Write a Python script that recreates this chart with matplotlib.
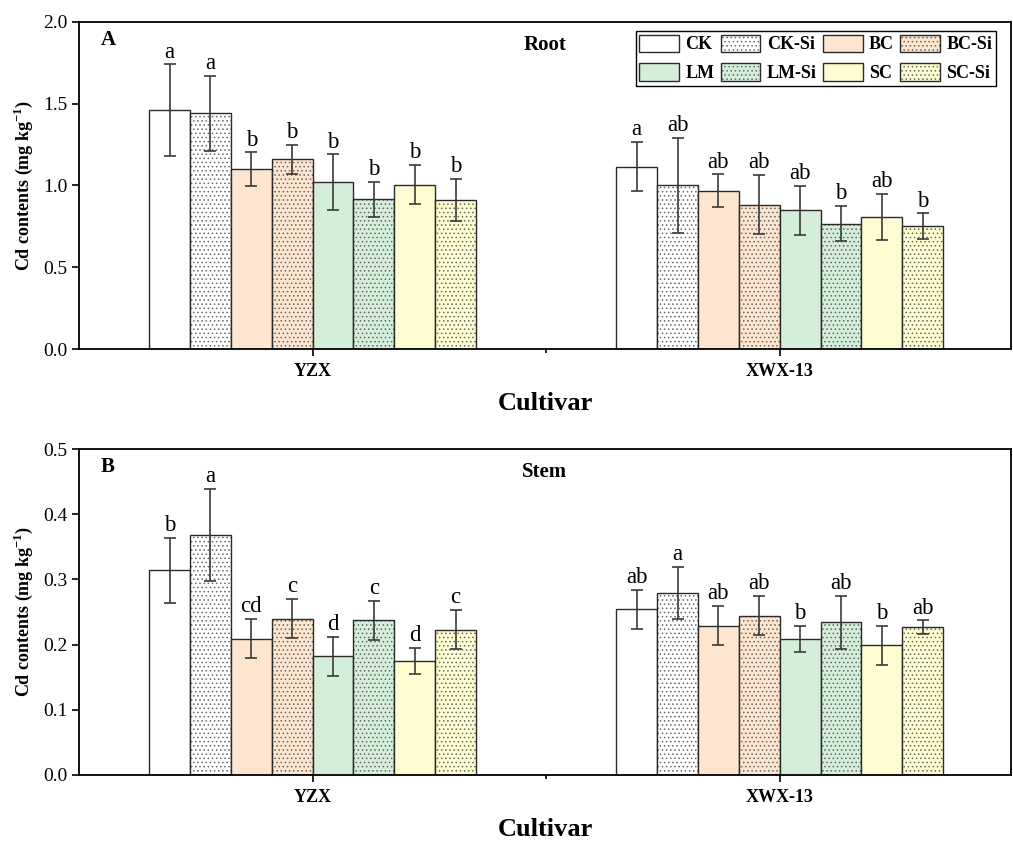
import numpy as np
import matplotlib
matplotlib.use('Agg')
import matplotlib.pyplot as plt
from matplotlib.patches import Patch
from matplotlib.legend_handler import HandlerTuple

plt.rcParams['font.family'] = ['Liberation Serif', 'DejaVu Serif']
plt.rcParams['mathtext.fontset'] = 'custom'
plt.rcParams['mathtext.rm'] = 'Liberation Serif'
plt.rcParams['mathtext.bf'] = 'Liberation Serif:bold'
plt.rcParams['hatch.linewidth'] = 0.6

# data
cultivars = ['YZX', 'XWX-13']
treatments = ['CK', 'CK-Si', 'BC', 'BC-Si', 'LM', 'LM-Si', 'SC', 'SC-Si']

root_mean = [[1.46, 1.44, 1.10, 1.16, 1.02, 0.915, 1.005, 0.91],
             [1.115, 1.00, 0.968, 0.883, 0.848, 0.767, 0.809, 0.750]]
root_err = [[0.28, 0.23, 0.103, 0.09, 0.17, 0.107, 0.12, 0.13],
            [0.15, 0.29, 0.10, 0.18, 0.15, 0.107, 0.14, 0.08]]
root_sig = [['a', 'a', 'b', 'b', 'b', 'b', 'b', 'b'],
            ['a', 'ab', 'ab', 'ab', 'ab', 'b', 'ab', 'b']]

stem_mean = [[0.314, 0.368, 0.209, 0.240, 0.182, 0.237, 0.175, 0.223],
             [0.254, 0.279, 0.229, 0.244, 0.209, 0.234, 0.199, 0.227]]
stem_err = [[0.05, 0.07, 0.03, 0.03, 0.03, 0.03, 0.02, 0.03],
            [0.03, 0.04, 0.03, 0.03, 0.02, 0.04, 0.03, 0.01]]
stem_sig = [['b', 'a', 'cd', 'c', 'd', 'c', 'd', 'c'],
            ['ab', 'a', 'ab', 'ab', 'b', 'ab', 'b', 'ab']]

colors = ['#FFFFFF', '#FFFFFF', '#FDE5CF', '#FDE5CF',
          '#D4EED9', '#D4EED9', '#FEFDD2', '#FEFDD2']
hatches = [None, '....', None, '....', None, '....', None, '....']
edge = '#2a2a2a'
dotcol = '#666666'

fig = plt.figure(figsize=(10.13, 8.41), dpi=100)
ax1 = fig.add_axes([0.078, 0.585, 0.920, 0.389])
ax2 = fig.add_axes([0.078, 0.0785, 0.920, 0.3876])

width = 0.0875
x = np.arange(len(cultivars))


def draw(ax, mean, err, sig, ymax, step, panel, title, off):
    mean = np.array(mean)
    err = np.array(err)
    for i in range(len(treatments)):
        pos = x - 3.5 * width + i * width
        if hatches[i]:
            ax.bar(pos, mean[:, i], width, color=colors[i], edgecolor=dotcol,
                   linewidth=0, hatch=hatches[i], zorder=2)
            ax.bar(pos, mean[:, i], width, fill=False, edgecolor=edge,
                   linewidth=1.0, zorder=2)
        else:
            ax.bar(pos, mean[:, i], width, color=colors[i], edgecolor=edge,
                   linewidth=1.0, zorder=2)
        ax.errorbar(pos, mean[:, i], yerr=err[:, i], fmt='none',
                    ecolor='#3a3a3a', elinewidth=1.2, capsize=4,
                    capthick=1.2, zorder=3)
        for j in range(len(cultivars)):
            ax.text(pos[j], mean[j, i] + err[j, i] + off, sig[j][i],
                    ha='center', va='bottom', fontsize=16.5)
    ax.set_xlim(-0.5, 1.495)
    ax.set_ylim(0, ymax)
    ticks = np.arange(0, ymax + step / 2, step)
    ax.set_yticks(ticks)
    ax.set_yticklabels(['%.1f' % v for v in ticks])
    ax.set_xticks(x)
    ax.set_xticklabels(cultivars, fontweight='bold', fontsize=13)
    ax.set_xticks([0.5], minor=True)
    ax.tick_params(axis='y', labelsize=14, length=5, width=1.2, direction='out')
    ax.tick_params(axis='x', which='major', length=5, width=1.2, pad=5)
    ax.tick_params(axis='x', which='minor', length=3, width=1.2)
    for s in ax.spines.values():
        s.set_linewidth(1.3)
    ax.set_ylabel(r'Cd contents (mg kg$^{\mathbf{-1}}$)', fontweight='bold',
                  fontsize=13, labelpad=6)
    ax.set_xlabel('Cultivar', fontweight='bold', fontsize=19, labelpad=9)
    ax.text(0.023, 0.975, panel, transform=ax.transAxes, ha='left', va='top',
            fontweight='bold', fontsize=15)
    ax.text(0.5, 0.93, title, transform=ax.transAxes, ha='center',
            va='center', fontweight='bold', fontsize=15)


draw(ax1, root_mean, root_err, root_sig, 2.0, 0.5, 'A', 'Root', 0.01)
draw(ax2, stem_mean, stem_err, stem_sig, 0.5, 0.1, 'B', 'Stem', 0.003)

handles = []
for i in range(len(treatments)):
    if hatches[i]:
        h = (Patch(facecolor=colors[i], edgecolor=dotcol, linewidth=0,
                   hatch=hatches[i]),
             Patch(fill=False, edgecolor=edge, linewidth=1.0))
    else:
        h = Patch(facecolor=colors[i], edgecolor=edge, linewidth=1.0)
    handles.append(h)
order = [0, 4, 1, 5, 2, 6, 3, 7]
leg = ax1.legend([handles[k] for k in order], [treatments[k] for k in order],
                 handler_map={tuple: HandlerTuple(ndivide=1, pad=0)},
                 ncol=4, loc='upper right', bbox_to_anchor=(0.984, 0.972),
                 fancybox=False, edgecolor='black', framealpha=1,
                 prop={'weight': 'bold', 'size': 13}, handlelength=2.2,
                 handleheight=1.1, columnspacing=0.35, handletextpad=0.35,
                 labelspacing=0.55, borderpad=0.2, borderaxespad=0)
leg.get_frame().set_linewidth(1.0)

fig.savefig('out.png', dpi=100)
